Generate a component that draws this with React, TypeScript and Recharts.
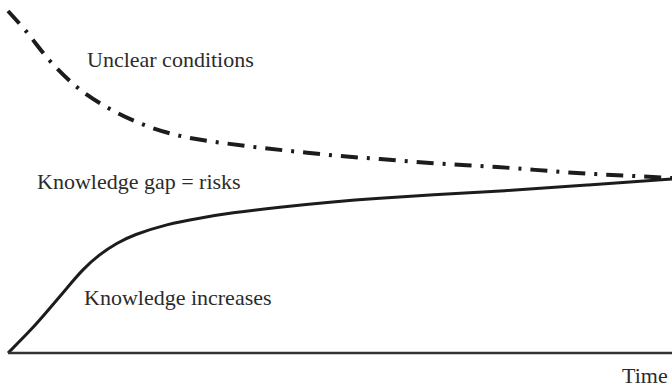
import { LineChart, Line, XAxis, YAxis } from "recharts";

// solid curve: knowledge over time
const knowledgeTime = [0, 25, 42, 59, 75, 92, 109, 125, 159, 192, 222, 272, 322, 372, 422, 495, 579, 664];
const knowledgeLevel = [0, 25, 45, 65, 84, 99, 110, 118, 129, 135, 140, 146, 151, 155, 158, 162, 168, 174];

// dash-dot curve: unclear conditions
const unclearTime = [0, 17, 42, 70, 102, 139, 177, 215, 255, 292, 332, 372, 422, 489, 569, 645, 664];
const unclearLevel = [342, 323, 292, 265, 244, 227, 216, 210, 205, 201, 197, 194, 190, 186, 180, 176, 175];

const labels = [
  { text: "Unclear conditions", x: 87, y: 67 },
  { text: "Knowledge gap = risks", x: 37, y: 189 },
  { text: "Knowledge increases", x: 84, y: 305 },
  { text: "Time", x: 622, y: 383 },
];

const knowledgeData = knowledgeTime.map((t, i) => ({ t, v: knowledgeLevel[i] }));
const unclearData = unclearTime.map((t, i) => ({ t, v: unclearLevel[i] }));

const W = 672;
const H = 388;

export default function App() {
  return (
    <div style={{ position: "absolute", left: 0, top: 0, width: W, height: H, background: "#fff" }}>
      <LineChart width={W} height={H} margin={{ top: 3, right: 0, bottom: 0, left: 8 }}>
        <XAxis
          type="number"
          dataKey="t"
          domain={[0, 664]}
          height={35}
          tick={false}
          tickLine={false}
          axisLine={{ stroke: "#333", strokeWidth: 2.5 }}
        />
        <YAxis type="number" dataKey="v" domain={[0, 350]} hide />
        <Line
          data={unclearData}
          dataKey="v"
          type="monotone"
          stroke="#1c1c1c"
          strokeWidth={4}
          strokeDasharray="17 9 3 9"
          dot={false}
          activeDot={false}
          isAnimationActive={false}
        />
        <Line
          data={knowledgeData}
          dataKey="v"
          type="basis"
          stroke="#1c1c1c"
          strokeWidth={3}
          dot={false}
          activeDot={false}
          isAnimationActive={false}
        />
      </LineChart>
      <svg
        width={W}
        height={H}
        style={{ position: "absolute", left: 0, top: 0, pointerEvents: "none" }}
      >
        {labels.map((l) => (
          <text
            key={l.text}
            x={l.x}
            y={l.y}
            fontFamily="'Liberation Serif', serif"
            fontSize={22}
            fill="#2b2b2b"
          >
            {l.text}
          </text>
        ))}
      </svg>
    </div>
  );
}
